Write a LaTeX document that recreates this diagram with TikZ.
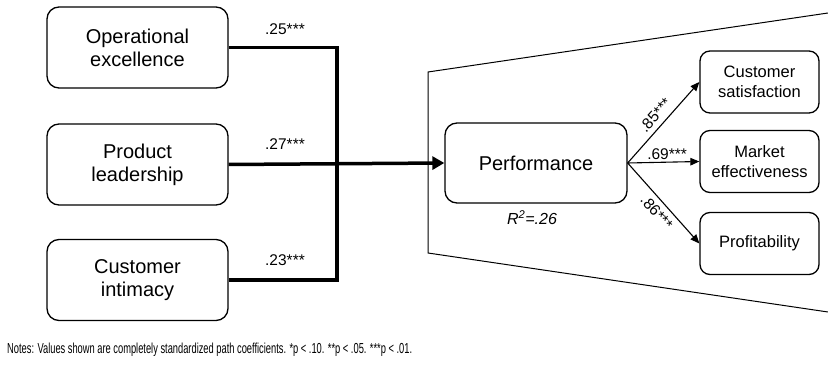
\documentclass[tikz,border=0pt]{standalone}
\usepackage{fontspec}
\usepackage{graphicx}
\setmainfont{Liberation Sans}
\usetikzlibrary{arrows.meta}
\tikzset{
  bigbox/.style={draw, line width=1.3pt, rounded corners=12pt, minimum width=181pt, minimum height=81pt, align=center, inner sep=0pt, font=\fontsize{20}{23}\selectfont},
  smallbox/.style={draw, line width=1.3pt, rounded corners=10pt, minimum width=119pt, minimum height=62pt, align=center, inner sep=0pt, font=\fontsize{16.5}{20}\selectfont},
  thickline/.style={line width=3.5pt},
  thinarrow/.style={line width=1.1pt, -{Triangle[length=9pt,width=7.5pt]}},
  coef/.style={font=\fontsize{15.5}{17}\selectfont, inner sep=1pt}
}
\begin{document}
\begin{tikzpicture}[x=1pt,y=-1pt]
\useasboundingbox (0,0) rectangle (828,371);

% antecedent strategies
\node[bigbox] (op) at (137.5,47.5) {Operational\\excellence};
\node[bigbox] (pl) at (137.5,164.5) {Product\\leadership};
\node[bigbox] (ci) at (137.5,280) {Customer\\intimacy};

% performance block and its outcomes
\node[bigbox, minimum width=182pt, minimum height=80pt] (perf) at (536,163) {Performance};
\node[smallbox] (cs) at (759.5,82) {Customer\\satisfaction};
\node[smallbox] (me) at (759.5,161.5) {Market\\effectiveness};
\node[smallbox] (pr) at (759.5,243.5) {Profitability};

% enclosing trapezoid, open at the right edge
\coordinate (tr) at (828,13);
\coordinate (tl) at (428,72);
\coordinate (bl) at (428,253);
\coordinate (br) at (828,312);
\draw[line width=1pt] (tr) -- (tl) -- (bl) -- (br);

% joined paths into performance
\coordinate (j) at (337,164.5);
\draw[thickline] (op.east) -| (j);
\draw[thickline] (ci.east) -| (j);
\draw[thickline, -{Triangle[length=12pt,width=13pt]}] (pl.east) -- (perf.west);

\node[coef] (c1) at (285,29) {.25***};
\node[coef] (c2) at (285,144) {.27***};
\node[coef] (c3) at (285,260) {.23***};

\node[font=\fontsize{16}{18}\selectfont\itshape] (r2) at (532,218) {R\textsuperscript{2}=.26};

% outcome paths
\draw[thinarrow] (perf.east) -- (cs.west) node[coef, pos=0.5, sloped, above=4pt] {.85***};
\draw[thinarrow] (perf.east) -- (me.west) node[coef, pos=0.55, above=1pt] {.69***};
\draw[thinarrow] (perf.east) -- (pr.west) node[coef, pos=0.52, sloped, below=4pt] {.86***};

% footnote
\node[anchor=west, inner sep=0pt, font=\fontsize{14.5}{17}\selectfont] (notes) at (7,350)
  {\resizebox{405pt}{\height}{Notes: Values shown are completely standardized path coefficients. *p < .10. **p < .05. ***p < .01.}};
\end{tikzpicture}
\end{document}
